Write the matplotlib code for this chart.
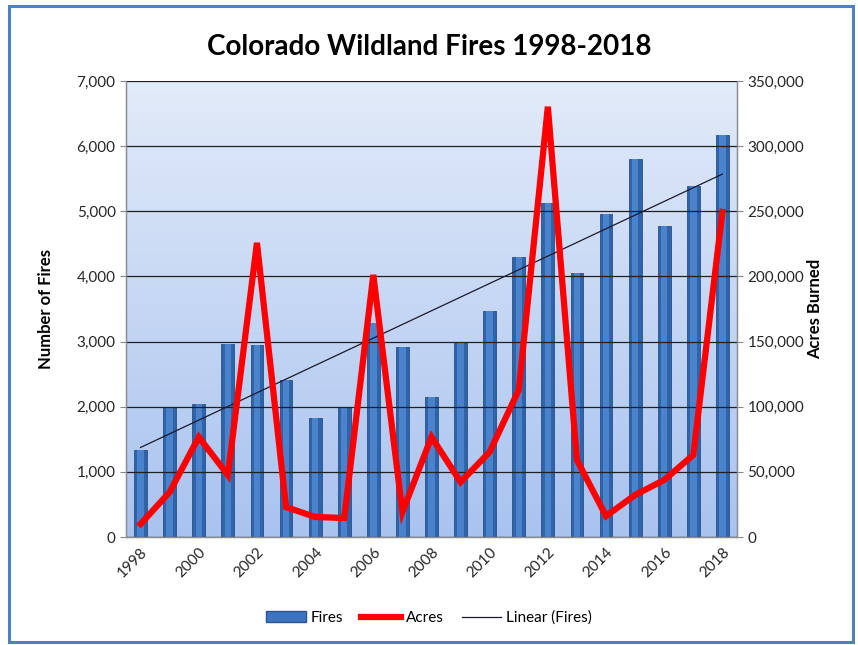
import numpy as np
import matplotlib
matplotlib.use("Agg")
import matplotlib.pyplot as plt
from matplotlib.colors import LinearSegmentedColormap
from matplotlib.patches import Rectangle
from matplotlib.lines import Line2D
from matplotlib.ticker import FuncFormatter

plt.rcParams['font.family'] = ['Lato', 'DejaVu Sans']

years = list(range(1998, 2019))
fires = [1340, 1995, 2045, 2965, 2945, 2410, 1830, 2000, 3285, 2920, 2150,
         2980, 3470, 4300, 5130, 4055, 4960, 5805, 4780, 5395, 6175]
acres = [10000, 34500, 76800, 47600, 225800, 23000, 15400, 14600, 201200, 19200, 76800,
         42200, 65300, 112900, 330300, 59100, 16100, 32300, 43800, 63000, 249600]

x = np.arange(len(years))

fig = plt.figure(figsize=(8.58, 6.45), dpi=100)
ax = fig.add_axes([0.1469, 0.1674, 0.712, 0.707])
ax2 = ax.twinx()

# plot area gradient (light at top, more blue at bottom)
bg = LinearSegmentedColormap.from_list("bg", ["#a9c3ef", "#e2ebf9"])
grad = np.linspace(0, 1, 256).reshape(-1, 1)
ax.imshow(grad, extent=(-0.5, 20.5, 0, 7000), origin="lower", aspect="auto",
          cmap=bg, zorder=0)

# bars with a lighter middle stripe to fake the cylinder look
ax.bar(x, fires, width=0.44, color="#3064a8", edgecolor="#28508a", linewidth=0.6, zorder=2)
ax.bar(x, fires, width=0.22, color="#4a82cc", linewidth=0, zorder=2.1)

# trendline over the fires
k, b = np.polyfit(x, fires, 1)
ax.plot(x, k * x + b, color="#1a1a2e", linewidth=0.9, zorder=3)

ax2.plot(x, acres, color="#ff0000", linewidth=4.5, solid_joinstyle="miter", zorder=4)

ax.set_xlim(-0.5, 20.5)
ax.set_ylim(0, 7000)
ax2.set_ylim(0, 350000)
ax.set_yticks(np.arange(0, 7001, 1000))
ax2.set_yticks(np.arange(0, 350001, 50000))
fmt = FuncFormatter(lambda v, p: f"{int(v):,}")
ax.yaxis.set_major_formatter(fmt)
ax2.yaxis.set_major_formatter(fmt)
ax.grid(axis="y", color="#202020", linewidth=0.9, zorder=1)
ax.set_axisbelow(False)

ax.set_xticks(x[::2])
ax.set_xticklabels([str(y) for y in years[::2]], rotation=45, ha="right",
                   rotation_mode="anchor", fontsize=11)
ax.tick_params(axis="x", length=0, pad=6, labelcolor="#262626")
ax.tick_params(axis="y", labelsize=11, length=4, color="#888888", labelcolor="#262626")
ax2.tick_params(axis="y", labelsize=11, length=4, color="#888888", labelcolor="#262626")

for a in (ax, ax2):
    for s in a.spines.values():
        s.set_color("#8c8c8c")
        s.set_linewidth(0.9)
ax.spines["top"].set_visible(False)
ax2.spines["top"].set_visible(False)

ax.set_ylabel("Number of Fires", fontsize=12, fontweight="bold", labelpad=16)
ax2.set_ylabel("Acres Burned", fontsize=12, fontweight="bold", rotation=90, labelpad=2)

fig.suptitle("Colorado Wildland Fires 1998-2018", fontsize=20, fontweight="bold",
             x=0.5, y=0.948)

handles = [
    Rectangle((0, 0), 1, 1, facecolor="#3d74bd", edgecolor="#2a5590"),
    Line2D([], [], color="#ff0000", linewidth=4.5),
    Line2D([], [], color="#1a1a2e", linewidth=0.9),
]
fig.legend(handles, ["Fires", "Acres", "Linear (Fires)"], loc="center",
           bbox_to_anchor=(0.5, 0.042), ncol=3, frameon=False, fontsize=11,
           handlelength=2.6, columnspacing=1.2, handletextpad=0.3)

# outer chart border
fig.patches.append(Rectangle((0.01, 0.004), 0.984, 0.986, transform=fig.transFigure,
                             fill=False, edgecolor="#4f81bd", linewidth=2.2))

fig.savefig("out.png", dpi=100)
